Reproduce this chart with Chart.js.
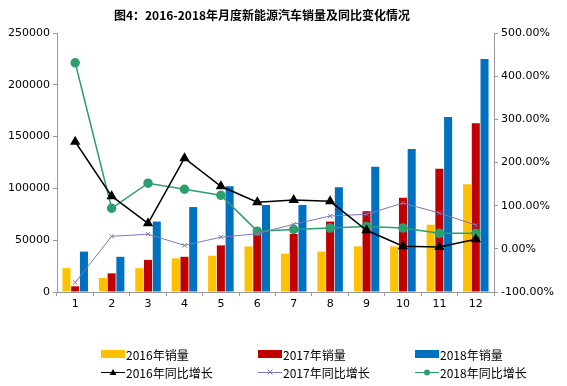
<!DOCTYPE html>
<html>
<head>
<meta charset="utf-8">
<script src="https://cdn.jsdelivr.net/npm/chart.js@4.4.0/dist/chart.umd.min.js"></script>
<style>
  html, body { margin: 0; padding: 0; background: #fff; }
  #wrap { width: 567px; height: 386px; position: relative; }
</style>
</head>
<body>
<div id="wrap"><canvas id="c" width="567" height="386"></canvas></div>
<script>
const months = ['1', '2', '3', '4', '5', '6', '7', '8', '9', '10', '11', '12'];
const sales2016 = [23000, 13500, 23000, 32500, 35000, 44000, 37000, 39000, 44000, 44000, 65000, 104000];
const sales2017 = [5500, 18000, 31000, 34000, 45000, 59000, 56000, 68000, 78000, 91000, 119000, 163000];
const sales2018 = [39000, 34000, 68000, 82000, 102000, 84000, 84000, 101000, 121000, 138000, 169000, 225000];
// year-on-year growth, as fractions (1 = 100%)
const yoy2016 = [2.48, 1.22, 0.59, 2.10, 1.45, 1.08, 1.13, 1.10, 0.43, 0.06, 0.04, 0.22];
const yoy2017 = [-0.78, 0.29, 0.34, 0.08, 0.27, 0.35, 0.57, 0.76, 0.80, 1.06, 0.83, 0.55];
const yoy2018 = [4.31, 0.94, 1.52, 1.38, 1.24, 0.41, 0.45, 0.48, 0.52, 0.48, 0.36, 0.36];

const font = "'DejaVu Sans', 'Noto Sans CJK SC', sans-serif";
const axisGray = '#999999';

// title + 3x2 legend drawn on the canvas
const extras = {
  id: 'extras',
  afterDraw(chart) {
    const ctx = chart.ctx;
    ctx.save();
    ctx.fillStyle = '#000';
    ctx.font = "bold 12px 'Noto Sans CJK SC', sans-serif";
    ctx.textAlign = 'center';
    ctx.textBaseline = 'middle';
    ctx.fillText('图4：2016-2018年月度新能源汽车销量及同比变化情况', 262, 15);

    ctx.font = "12px 'Noto Sans CJK SC', sans-serif";
    ctx.textAlign = 'left';
    chart.data.datasets.forEach((ds, i) => {
      const col = i % 3, row = Math.floor(i / 3);
      const x = 101 + col * 157, y = 354 + row * 18;
      if (ds.type === 'bar') {
        ctx.fillStyle = ds.backgroundColor;
        ctx.fillRect(x, y - 4, 24, 8);
      } else {
        ctx.strokeStyle = ds.borderColor;
        ctx.lineWidth = 1;
        ctx.beginPath();
        ctx.moveTo(x, y + 0.5);
        ctx.lineTo(x + 24, y + 0.5);
        ctx.stroke();
        ctx.fillStyle = ds.borderColor;
        const cx = x + 12;
        if (ds.pointStyle === 'triangle') {
          ctx.beginPath();
          ctx.moveTo(cx, y - 3);
          ctx.lineTo(cx + 3.5, y + 3);
          ctx.lineTo(cx - 3.5, y + 3);
          ctx.closePath();
          ctx.fill();
        } else if (ds.pointStyle === 'crossRot') {
          ctx.beginPath();
          ctx.moveTo(cx - 2.5, y - 2.5); ctx.lineTo(cx + 2.5, y + 2.5);
          ctx.moveTo(cx + 2.5, y - 2.5); ctx.lineTo(cx - 2.5, y + 2.5);
          ctx.stroke();
        } else {
          ctx.beginPath();
          ctx.arc(cx, y + 0.5, 3, 0, Math.PI * 2);
          ctx.fill();
        }
      }
      ctx.fillStyle = '#000';
      ctx.fillText(ds.label, x + 25, y + 1);
    });
    ctx.restore();
  }
};

new Chart(document.getElementById('c').getContext('2d'), {
  data: {
    labels: months,
    datasets: [
      { type: 'bar', label: '2016年销量', data: sales2016, backgroundColor: '#FFC000', yAxisID: 'y', order: 2 },
      { type: 'bar', label: '2017年销量', data: sales2017, backgroundColor: '#C00000', yAxisID: 'y', order: 2 },
      { type: 'bar', label: '2018年销量', data: sales2018, backgroundColor: '#0070C0', yAxisID: 'y', order: 2 },
      { type: 'line', label: '2016年同比增长', data: yoy2016, borderColor: '#000000', backgroundColor: '#000000',
        borderWidth: 1.5, pointStyle: 'triangle', pointRadius: 4.5, yAxisID: 'y1', order: 1 },
      { type: 'line', label: '2017年同比增长', data: yoy2017, borderColor: '#8075B8', backgroundColor: '#8075B8',
        borderWidth: 1, pointStyle: 'crossRot', pointRadius: 3, yAxisID: 'y1', order: 1 },
      { type: 'line', label: '2018年同比增长', data: yoy2018, borderColor: '#2E9E6E', backgroundColor: '#2E9E6E',
        borderWidth: 1.5, pointStyle: 'circle', pointRadius: 4, yAxisID: 'y1', order: 1 }
    ]
  },
  options: {
    responsive: false,
    animation: false,
    layout: { padding: { top: 33, bottom: 74, left: 0, right: 0 } },
    datasets: { bar: { categoryPercentage: 0.72, barPercentage: 0.92 } },
    plugins: { legend: { display: false }, title: { display: false }, tooltip: { enabled: false } },
    scales: {
      x: {
        afterFit(s) { s.height = 20; },
        grid: { offset: true, drawOnChartArea: false, drawTicks: true, tickLength: 4, color: axisGray },
        border: { color: axisGray },
        ticks: { color: '#000', font: { family: font, size: 11 }, padding: 2 }
      },
      y: {
        position: 'left',
        min: 0, max: 250000,
        afterFit(s) { s.width = 57; },
        grid: { drawOnChartArea: false, drawTicks: true, tickLength: 4, color: axisGray },
        border: { color: axisGray },
        ticks: { stepSize: 50000, color: '#000', font: { family: font, size: 11 }, padding: 3,
          callback: v => String(v) }
      },
      y1: {
        position: 'right',
        min: -1, max: 5,
        afterFit(s) { s.width = 73; },
        grid: { drawOnChartArea: false, drawTicks: true, tickLength: 4, color: axisGray },
        border: { color: axisGray },
        ticks: {
          stepSize: 1, color: '#000', font: { family: font, size: 11 }, padding: 3,
          callback: v => (v * 100).toFixed(2) + '%'
        }
      }
    }
  },
  plugins: [extras]
});
</script>
</body>
</html>
